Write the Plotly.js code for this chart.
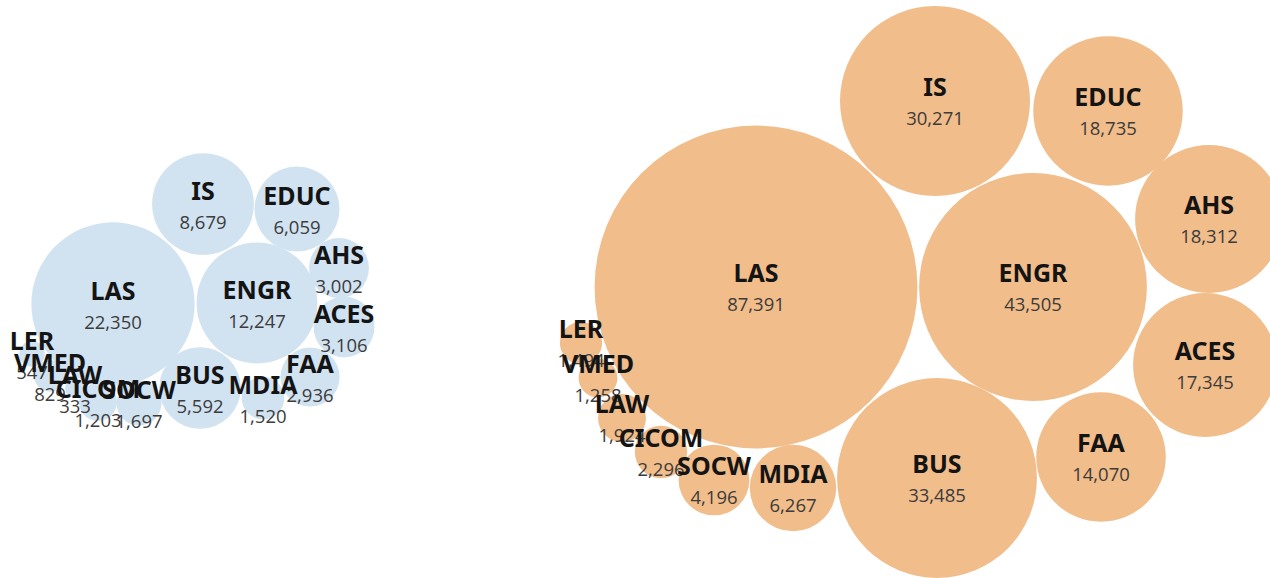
<!DOCTYPE html>
<html>
<head>
<meta charset="utf-8">
<script src="https://cdn.plot.ly/plotly-3.0.1.min.js"></script>
<style>html,body{margin:0;padding:0;background:#fff;}#chart{width:1270px;height:578px;}</style>
</head>
<body>
<div id="chart"></div>
<script>
// Categories (drawing order of labels)
const colleges = ["LER","VMED","LAW","CICOM","SOCW","LAS","IS","EDUC","ENGR","AHS","ACES","FAA","BUS","MDIA"];
// Values: left cluster (blue) and right cluster (orange)
const leftValues  = [547, 829, 333, 1203, 1697, 22350, 8679, 6059, 12247, 3002, 3106, 2936, 5592, 1520];
const rightValues = [1494, 1258, 1924, 2296, 4196, 87391, 30271, 18735, 43505, 18312, 17345, 14070, 33485, 6267];

// Layout: packed bubble centres (pixel-space coordinates of the plot area)
const leftX  = [32, 50, 75, 98, 139, 113, 203, 297, 257, 339, 344, 310, 200, 263];
const leftY  = [354, 376, 388, 402, 403, 304, 204, 209, 303, 268, 327, 377, 388, 398];
const rightX = [581, 598, 622, 661, 714, 756, 935, 1108, 1033, 1209, 1205, 1101, 937, 793];
const rightY = [343, 378, 418, 452, 480, 287, 101, 111, 287, 219, 365, 457, 478, 488];

const K = 0.546;                 // px radius per sqrt(value)
const SIZEREF = 1 / (2 * K * K); // plotly area-mode size reference

function fmt(v){ return v.toLocaleString('en-US'); }

function bubbleTrace(xs, ys, vals, color){
  return {
    type:'scatter', mode:'markers', x:xs, y:ys,
    marker:{size:vals, sizemode:'area', sizeref:SIZEREF, color:color, opacity:1, line:{width:0}},
    hoverinfo:'skip', cliponaxis:false, showlegend:false
  };
}
function textTrace(xs, ys, vals, labelDy, valueDy){
  const x=[], y=[], t=[], sz=[], col=[], fam=[], wt=[];
  for(let i=0;i<colleges.length;i++){
    x.push(xs[i]); y.push(ys[i]+labelDy); t.push(colleges[i]);
    sz.push(25); col.push('#141414'); fam.push('Noto Sans'); wt.push('bold');
    x.push(xs[i]); y.push(ys[i]+valueDy); t.push(fmt(vals[i]));
    sz.push(18.5); col.push('#3c3c3c'); fam.push('Open Sans'); wt.push('normal');
  }
  return {
    type:'scatter', mode:'text', x:x, y:y, text:t, textposition:'middle center',
    textfont:{size:sz, color:col, family:fam, weight:wt},
    hoverinfo:'skip', cliponaxis:false, showlegend:false
  };
}

const data = [
  bubbleTrace(leftX, leftY, leftValues, '#d1e2f1'),
  bubbleTrace(rightX, rightY, rightValues, '#f1bd8a'),
  textTrace(leftX, leftY, leftValues, -10, 20),
  textTrace(rightX, rightY, rightValues, -11, 19)
];

const layout = {
  width:1270, height:578,
  margin:{l:0,r:0,t:0,b:0,pad:0},
  paper_bgcolor:'#ffffff', plot_bgcolor:'#ffffff',
  xaxis:{range:[0,1270], visible:false, fixedrange:true},
  yaxis:{range:[578,0], visible:false, fixedrange:true},
  showlegend:false
};
Plotly.newPlot('chart', data, layout, {displayModeBar:false, staticPlot:true});
</script>
</body>
</html>
